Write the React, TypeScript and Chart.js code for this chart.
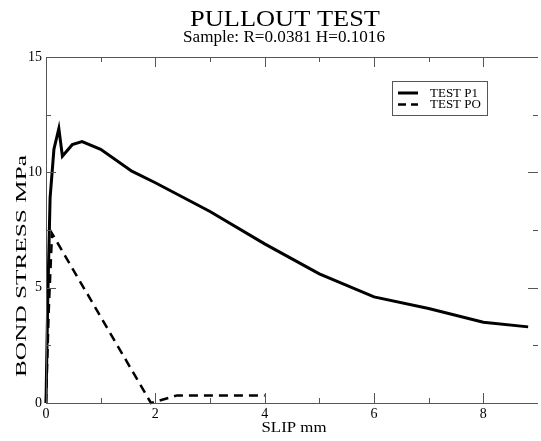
import React, { useEffect, useRef } from "react";
import { Chart, registerables } from "chart.js";

Chart.register(...registerables);

const TITLE = "PULLOUT TEST";
const SUBTITLE = "Sample: R=0.0381 H=0.1016";
const X_TITLE = "SLIP mm";
const Y_TITLE = "BOND STRESS MPa";

const P1_LABEL = "TEST P1";
const P1_SLIP = [0, 0.033, 0.075, 0.145, 0.235, 0.3, 0.48, 0.66, 1.0, 1.57, 2, 3, 4, 5, 6, 7, 8, 8.82];
const P1_STRESS = [0, 4.6, 8.9, 11.0, 11.9, 10.7, 11.2, 11.33, 11.0, 10.05, 9.55, 8.3, 6.9, 5.6, 4.6, 4.1, 3.5, 3.3];

const PO_LABEL = "TEST PO";
const PO_SLIP = [0, 0.05, 0.11, 1.92, 2.4, 4.0];
const PO_STRESS = [0, 4.0, 7.35, 0, 0.33, 0.33];

const X_MIN = 0;
const X_MAX = 9;
const Y_MIN = 0;
const Y_MAX = 15;
const X_STEP = 1;
const Y_STEP = 2.5;

const SERIF = "'Liberation Serif', 'Times New Roman', serif";
const AXIS_COLOR = "#555";

function drawStretched(
  ctx: CanvasRenderingContext2D,
  text: string,
  x: number,
  y: number,
  font: string,
  targetW: number,
  rotate = false
) {
  ctx.save();
  ctx.font = font;
  const w = ctx.measureText(text).width;
  ctx.translate(x, y);
  if (rotate) ctx.rotate(-Math.PI / 2);
  ctx.scale(targetW / w, 1);
  ctx.textAlign = "center";
  ctx.textBaseline = "alphabetic";
  ctx.fillStyle = "#000";
  ctx.fillText(text, 0, 0);
  ctx.restore();
}

const framePlugin = {
  id: "frame",
  afterDraw(chart: any) {
    const ctx: CanvasRenderingContext2D = chart.ctx;
    const { left, right, top, bottom } = chart.chartArea;
    const xs = chart.scales.x;
    const ys = chart.scales.y;
    ctx.save();
    ctx.strokeStyle = AXIS_COLOR;
    ctx.lineWidth = 1;
    ctx.beginPath();
    ctx.moveTo(Math.round(left) + 0.5, top);
    ctx.lineTo(Math.round(left) + 0.5, bottom);
    ctx.moveTo(left, Math.round(top) + 0.5);
    ctx.lineTo(right, Math.round(top) + 0.5);
    ctx.moveTo(left, Math.round(bottom) + 0.5);
    ctx.lineTo(right, Math.round(bottom) + 0.5);
    // x ticks
    for (let v = X_MIN + X_STEP; v < X_MAX; v += X_STEP) {
      const px = Math.round(xs.getPixelForValue(v)) + 0.5;
      const len = v % 2 === 0 ? 10 : 5;
      ctx.moveTo(px, bottom);
      ctx.lineTo(px, bottom - len);
      ctx.moveTo(px, top);
      ctx.lineTo(px, top + len);
    }
    // y ticks
    for (let v = Y_MIN + Y_STEP; v < Y_MAX; v += Y_STEP) {
      const py = Math.round(ys.getPixelForValue(v)) + 0.5;
      const len = v % 5 === 0 ? 10 : 5;
      ctx.moveTo(left, py);
      ctx.lineTo(left + len, py);
      ctx.moveTo(right, py);
      ctx.lineTo(right - len, py);
    }
    ctx.stroke();

    // titles
    drawStretched(ctx, TITLE, 285, 26, `24px ${SERIF}`, 190);
    drawStretched(ctx, SUBTITLE, 284, 42, `16px ${SERIF}`, 202);
    drawStretched(ctx, X_TITLE, 294, 432, `15px ${SERIF}`, 65);
    drawStretched(ctx, Y_TITLE, 26, 266, `15px ${SERIF}`, 222, true);

    // legend
    const bx = 392.5, by = 81.5, bw = 95, bh = 34;
    ctx.strokeStyle = AXIS_COLOR;
    ctx.lineWidth = 1;
    ctx.strokeRect(bx, by, bw, bh);
    const ds = chart.data.datasets;
    const rows = [93, 104.5];
    ds.forEach((d: any, i: number) => {
      ctx.save();
      ctx.strokeStyle = d.borderColor;
      ctx.lineWidth = d.borderWidth;
      ctx.setLineDash(i === 0 ? [] : [8, 5]);
      ctx.beginPath();
      ctx.moveTo(398, rows[i]);
      ctx.lineTo(418, rows[i]);
      ctx.stroke();
      ctx.restore();
      ctx.fillStyle = "#000";
      ctx.font = `13px ${SERIF}`;
      ctx.textAlign = "left";
      ctx.textBaseline = "middle";
      ctx.fillText(d.label, 430, rows[i] + 0.5);
    });
    ctx.restore();
  },
};

export default function App() {
  const ref = useRef<HTMLCanvasElement | null>(null);
  useEffect(() => {
    if (!ref.current) return;
    const chart = new Chart(ref.current, {
      type: "line",
      data: {
        datasets: [
          {
            label: P1_LABEL,
            data: P1_SLIP.map((x, i) => ({ x, y: P1_STRESS[i] })),
            borderColor: "#000",
            borderWidth: 3,
            pointRadius: 0,
            tension: 0,
            fill: false,
            clip: false as any,
          },
          {
            label: PO_LABEL,
            data: PO_SLIP.map((x, i) => ({ x, y: PO_STRESS[i] })),
            borderColor: "#000",
            borderWidth: 2.5,
            borderDash: [9, 6],
            pointRadius: 0,
            tension: 0,
            fill: false,
            clip: false as any,
          },
        ],
      },
      options: {
        responsive: false,
        animation: false,
        events: [],
        layout: { padding: { top: 57, right: 0, left: 0, bottom: 0 } },
        plugins: {
          legend: { display: false },
          title: { display: false },
          tooltip: { enabled: false },
        },
        scales: {
          x: {
            type: "linear",
            min: X_MIN,
            max: X_MAX,
            grid: { display: false, drawTicks: false },
            border: { display: false },
            afterFit: (s: any) => {
              s.height = 38;
            },
            ticks: {
              stepSize: X_STEP,
              autoSkip: false,
              maxRotation: 0,
              padding: 3,
              color: "#000",
              font: { family: SERIF, size: 14 },
              callback: (v: any) => (Number(v) % 2 === 0 && Number(v) < X_MAX ? String(v) : ""),
            },
          },
          y: {
            type: "linear",
            min: Y_MIN,
            max: Y_MAX,
            grid: { display: false, drawTicks: false },
            border: { display: false },
            afterFit: (s: any) => {
              s.width = 46;
            },
            ticks: {
              stepSize: Y_STEP,
              autoSkip: false,
              padding: 4,
              color: "#000",
              font: { family: SERIF, size: 14 },
              callback: (v: any) => (Number(v) % 5 === 0 ? String(v) : ""),
            },
          },
        },
      },
      plugins: [framePlugin],
    });
    return () => chart.destroy();
  }, []);
  return (
    <div style={{ position: "fixed", left: 0, top: 0, width: 541, height: 441, background: "#fff" }}>
      <canvas ref={ref} width={541} height={441} style={{ display: "block" }} />
    </div>
  );
}
